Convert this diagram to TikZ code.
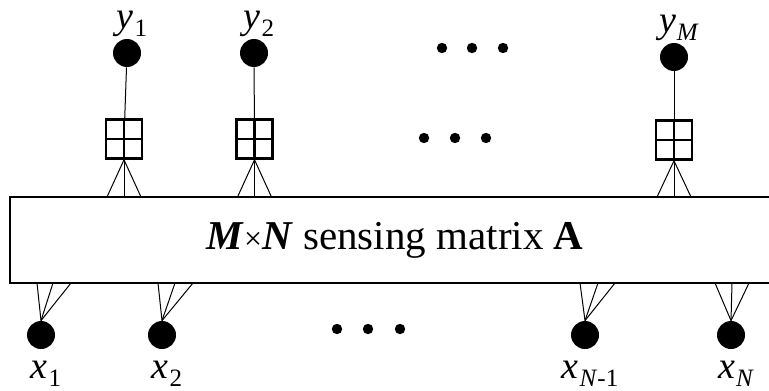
\documentclass[tikz,border=0pt]{standalone}
\usepackage{fontspec}
\setmainfont{Liberation Serif}
\newcommand{\sublbl}[2]{\textit{#1}\kern0.5pt\raisebox{-4pt}{\fontsize{12.5}{12.5}\selectfont #2}}
\tikzstyle{var}=[circle, fill=black, inner sep=0pt, minimum width=13pt, minimum height=14pt]
\tikzstyle{adder}=[draw, line width=1.3pt, minimum width=18pt, minimum height=19.5pt, inner sep=0pt,
	path picture={\draw[line width=1.3pt] (path picture bounding box.north) -- (path picture bounding box.south)
		(path picture bounding box.west) -- (path picture bounding box.east);}]
\tikzstyle{sensebox}=[draw, line width=1.3pt, minimum width=385pt, minimum height=43pt, inner sep=0pt,
	font=\fontsize{20.5}{24}\selectfont]
\tikzstyle{lbl}=[inner sep=0pt, font=\fontsize{19}{21}\selectfont, xshift=2.5pt]
\tikzstyle{edge}=[line width=0.5pt]

\begin{document}
\begin{tikzpicture}[x=0.5pt, y=-0.5pt]
				\useasboundingbox (0,0) rectangle (769,390);
				\clip (0,0) rectangle (769,390);

				% sensing matrix
				\node[sensebox] (mat) at (395,240) {\raisebox{2pt}{\textbf{\textit{M}}{\fontsize{16}{16}\selectfont ×}\textbf{\textit{N}} sensing matrix \textbf{A}}};

				% measurements
				\foreach \i/\cx/\bx/\cy/\by/\sub in {1/127/124/53/139/1, 2/254/254.5/53/139/2, M/674/674/57/140/\textit{M}} {
					\node[var, label={[lbl, label distance=0.5pt]above:\sublbl{y}{\sub}}] (y\i) at (\cx,\cy) {};
					\node[adder] (b\i) at (\bx,\by) {};
					\draw[edge] (y\i) -- (b\i);
					\foreach \d [count=\k] in {-17,0,17} {
						\coordinate (t\i\k) at (\bx+\d,197);
						\draw[edge] (b\i.south) -- (t\i\k);
					}
				}

				% signal entries
				\foreach \i/\cx/\sub/\da/\db/\dc in {1/41/1/-4/12/30, 2/162/2/-4/13/31, n1/585/\textit{N}-1/-5/13/30, n/731/\textit{N}/-16/1/18} {
					\node[var, label={[lbl, label distance=5.5pt]below:\sublbl{x}{\sub}}] (x\i) at (\cx,335) {};
					\foreach \d [count=\k] in {\da,\db,\dc} {
						\coordinate (s\i\k) at (\cx+\d,283);
						\draw[edge] (x\i.north) -- (s\i\k);
					}
				}

				% ellipses
				\foreach \px/\py in {442/48, 472/48, 503/48, 424/138, 455/138, 486/138, 337/329, 368/329, 400/329}
					\fill[black] (\px,\py) circle [radius=2.6pt];
			\end{tikzpicture}
\end{document}
